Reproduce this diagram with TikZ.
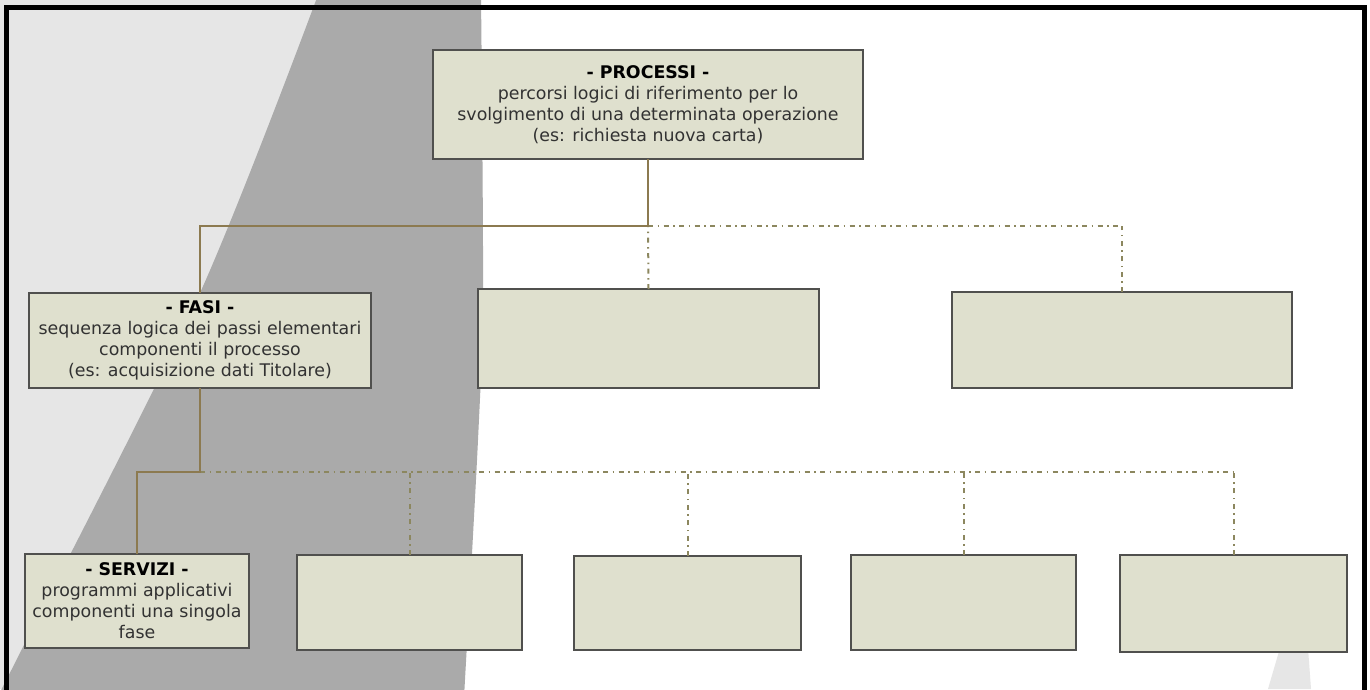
\documentclass[tikz,border=0pt]{standalone}
\usepackage{fontspec}
\setmainfont{DejaVu Sans}
\definecolor{lightbg}{RGB}{230,230,230}
\definecolor{bandgray}{RGB}{170,170,170}
\definecolor{boxfill}{RGB}{223,224,206}
\definecolor{boxborder}{RGB}{80,80,78}
\definecolor{solidc}{RGB}{140,122,80}
\definecolor{ddc}{RGB}{140,135,95}
\definecolor{txt}{RGB}{50,50,50}
\tikzset{
  box/.style={draw=boxborder, line width=1.8pt, fill=boxfill, inner sep=0pt, outer sep=0pt,
    align=center, anchor=north west, text=txt, font=\fontsize{17.4}{21}\selectfont},
  solidline/.style={draw=solidc, line width=2pt},
  ddline/.style={draw=ddc, line width=2pt, dash pattern=on 5pt off 4.5pt on 1.5pt off 4.5pt}
}
\begin{document}
\begin{tikzpicture}[x=1pt,y=-1pt]
\useasboundingbox (0,0) rectangle (1370,689);
\clip (0,0) rectangle (1370,689);
% background
\fill[white] (0,0) rectangle (1370,689);
\fill[lightbg] (0,0) rectangle (400,689);
\fill[bandgray] plot[smooth] coordinates {(318,-5) (200,293) (25,643) (-12,715)}
  -- plot[smooth] coordinates {(463,715) (478,440) (483,290) (481,-5)} -- cycle;
\fill[lightbg] (1268,689) -- (1280,648) -- (1308,648) -- (1311,689) -- cycle;
% frame
\draw[line width=5pt, black] (6,7) rectangle (1364.5,720);
% nodes
\node[box, minimum width=430pt, minimum height=109pt] (P) at (433,50)
  {\textcolor{black}{\textbf{- PROCESSI -}}\\percorsi logici di riferimento per lo\\svolgimento di una determinata operazione\\(es: richiesta nuova carta)};
\node[box, minimum width=342pt, minimum height=95pt] (F) at (29,293)
  {\textcolor{black}{\textbf{- FASI -}}\\sequenza logica dei passi elementari\\componenti il processo\\(es: acquisizione dati Titolare)};
\node[box, minimum width=341pt, minimum height=99pt] (M1) at (478,289) {};
\node[box, minimum width=340pt, minimum height=96pt] (R1) at (952,292) {};
\node[box, minimum width=224pt, minimum height=94pt] (S1) at (25,554)
  {\textcolor{black}{\textbf{- SERVIZI -}}\\programmi applicativi\\componenti una singola\\fase};
\node[box, minimum width=225pt, minimum height=95pt] (S2) at (297,555) {};
\node[box, minimum width=227pt, minimum height=94pt] (S3) at (574,556) {};
\node[box, minimum width=225pt, minimum height=95pt] (S4) at (851,555) {};
\node[box, minimum width=227pt, minimum height=97pt] (S5) at (1120,555) {};
% connectors level 1
\coordinate (j1) at (P.south |- 0,226);
\coordinate (k1) at (R1.north |- j1);
\draw[ddline] (j1) -- (k1);
\draw[ddline] (R1.north) -- (k1);
\draw[ddline] (M1.north) -- (j1);
\draw[solidline] (P.south) -- (j1) -| (F.north);
% connectors level 2
\coordinate (j2) at (F.south |- 0,472);
\coordinate (k2) at (S5.north |- j2);
\draw[ddline] (j2) -- (k2);
\draw[ddline] (S5.north) -- (k2);
\draw[ddline] (S2.north) -- (S2.north |- j2);
\draw[ddline] (S3.north) -- (S3.north |- j2);
\draw[ddline] (S4.north) -- (S4.north |- j2);
\draw[solidline] (F.south) -- (j2) -| (S1.north);
\end{tikzpicture}
\end{document}
